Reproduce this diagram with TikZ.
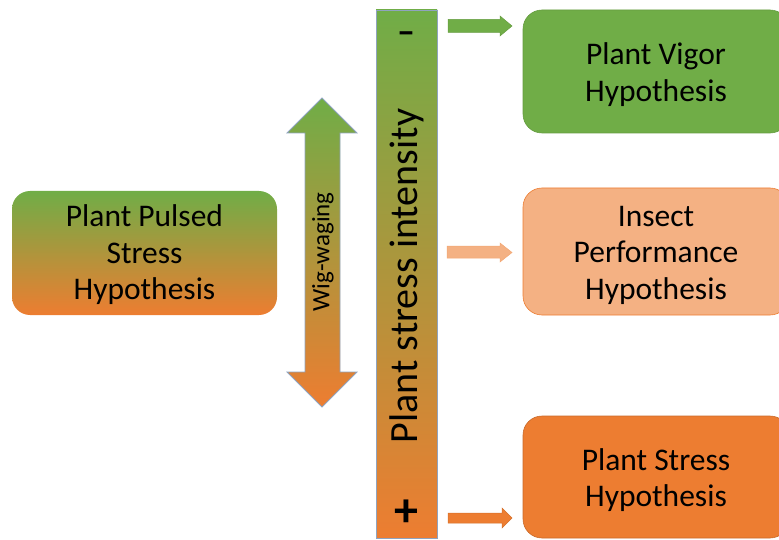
\documentclass[tikz,border=0pt]{standalone}
\usepackage{fontspec}
\setmainfont{Carlito}
\definecolor{cgreen}{HTML}{70AD47}
\definecolor{corange}{HTML}{ED7D31}
\definecolor{clight}{HTML}{F4B183}
\definecolor{cedge}{HTML}{8FA3BF}
\begin{document}
\begin{tikzpicture}[x=1pt,y=-1pt,
  hyp/.style={rounded corners=19pt, inner sep=0pt},
  hyptext/.style={align=center, inner sep=0pt,
    font=\fontsize{31.5}{36.5}\selectfont, text=black},
  grad/.style={top color=cgreen, bottom color=corange},
  edgeline/.style={draw=cedge, line width=0.8pt}]
\useasboundingbox (0,0) rectangle (779,540);
\clip (0,0) rectangle (779,540);

% left box
\node[hyp, grad, rounded corners=18pt, minimum width=265pt, minimum height=124pt]
  (pulsed) at (144.5,253) {};
\node[hyptext] (pulsedtext) at (144.5,255) {Plant Pulsed\\Stress\\Hypothesis};

% double arrow
\path[grad, edgeline] (322,98) -- (357,133) -- (340,133) -- (340,372) -- (357,372)
  -- (322,407) -- (287,372) -- (305,372) -- (305,133) -- (287,133) -- cycle;
\node[rotate=90, font=\fontsize{25}{25}\selectfont] (wig) at (323,252) {Wig-waging};

% bar
\node[grad, edgeline, minimum width=61pt, minimum height=528pt, inner sep=0pt]
  (bar) at (406.5,274) {};
\node[rotate=90, font=\fontsize{40}{40}\selectfont] (intensity) at (407,276) {Plant stress intensity};
\node[font=\fontsize{36}{36}\selectfont\bfseries] (minus) at (406,38) {–};
\node[font=\fontsize{48}{48}\selectfont\bfseries] (plus) at (406,513) {+};

% small arrows
\path[fill=cgreen, draw=cgreen!90!black, line width=0.5pt]
  (448,19.5) -- (500,19.5) -- (500,16) -- (512,26) -- (500,36) -- (500,32.5) -- (448,32.5) -- cycle;
\path[fill=clight, draw=clight!80!corange, line width=0.5pt]
  (447,246) -- (500,246) -- (500,243) -- (512,252.5) -- (500,262) -- (500,258) -- (447,258) -- cycle;
\path[fill=corange, draw=corange!90!black, line width=0.5pt]
  (448,513) -- (502,513) -- (502,508) -- (512,518) -- (502,528) -- (502,523) -- (448,523) -- cycle;

% right boxes
\node[hyp, fill=cgreen, draw=cgreen!90!black, line width=0.6pt, minimum width=266pt, minimum height=123pt]
  (vigor) at (656,71.5) {};
\node[hyptext] (vigortext) at (656,74.5) {Plant Vigor\\Hypothesis};
\node[hyp, fill=clight, draw=corange, line width=0.6pt, minimum width=266pt, minimum height=127pt]
  (insect) at (656,251.5) {};
\node[hyptext] (insecttext) at (656,255) {Insect\\Performance\\Hypothesis};
\node[hyp, fill=corange, draw=corange!85!black, line width=0.6pt, minimum width=266pt, minimum height=122pt]
  (stress) at (656,477) {};
\node[hyptext] (stresstext) at (656,480) {Plant Stress\\Hypothesis};
\end{tikzpicture}
\end{document}
